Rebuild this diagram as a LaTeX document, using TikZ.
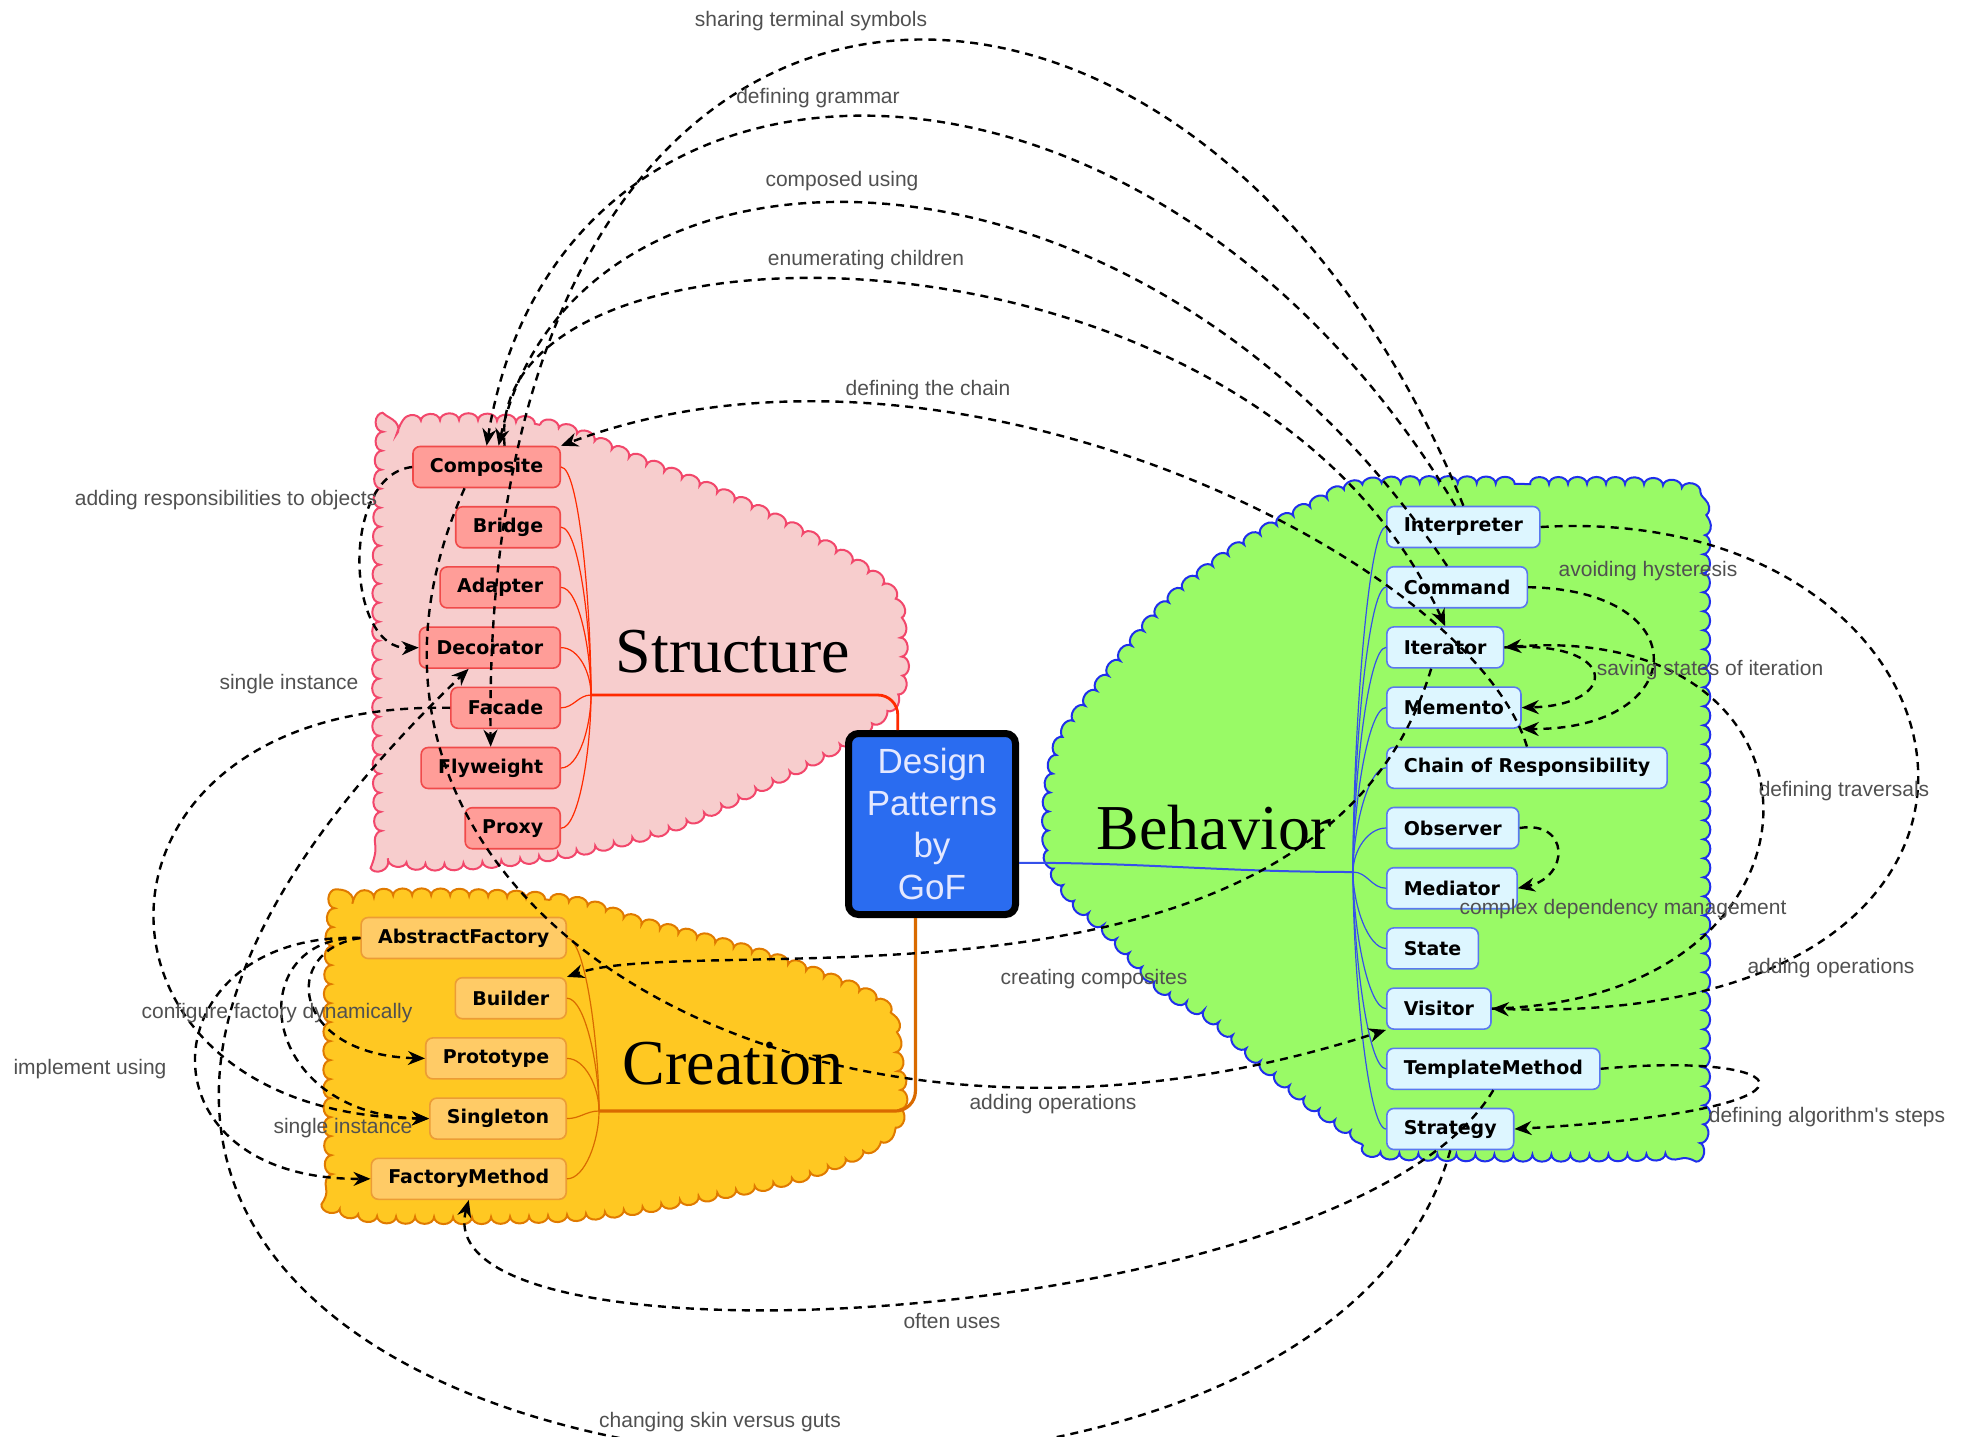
\documentclass[tikz,border=0pt]{standalone}
\usepackage{fontspec}
\setmainfont{Liberation Serif}
\newfontfamily\boxfont{DejaVu Sans}
\newfontfamily\labelfont{Liberation Sans}
\usepackage{xcolor}
\usepackage{tikz}
\usetikzlibrary{
    arrows.meta,
    positioning,
    decorations.pathmorphing
}

\definecolor{structfill}{HTML}{F7CDCD}
\definecolor{structline}{HTML}{F2476B}
\definecolor{structbox}{HTML}{FF9D98}
\definecolor{structboxline}{HTML}{F04A4A}
\definecolor{structbranch}{HTML}{FF2A00}
\definecolor{creatfill}{HTML}{FFC822}
\definecolor{creatline}{HTML}{E07A00}
\definecolor{creatbox}{HTML}{FFCB66}
\definecolor{creatboxline}{HTML}{EC9C35}
\definecolor{creatbranch}{HTML}{D96A00}
\definecolor{behavfill}{HTML}{99FA66}
\definecolor{behavline}{HTML}{1F2FEB}
\definecolor{behavbox}{HTML}{DDF6FF}
\definecolor{behavboxline}{HTML}{5A78F0}
\definecolor{behavbranch}{HTML}{3550EA}
\definecolor{gofblue}{HTML}{2A6CF0}
\definecolor{goftext}{HTML}{E4E8FF}
\definecolor{labelgray}{HTML}{505050}

\begin{document}
\begin{tikzpicture}[
        x=0.5pt, y=-0.5pt,
        node distance=8.8pt,
        patternbox/.style={
            rectangle,
            rounded corners=3.5pt,
            line width=0.8pt,
            minimum height=20.5pt,
            inner xsep=8.5pt,
            inner ysep=0pt,
            font=\boxfont\bfseries\fontsize{9.5}{11}\selectfont
        },
        sbox/.style={patternbox, draw=structboxline, fill=structbox},
        cbox/.style={patternbox, draw=creatboxline, fill=creatbox},
        behbox/.style={patternbox, draw=behavboxline, fill=behavbox},
        cloudpath/.style={
            line width=1pt,
            decorate,
            decoration={bumps, segment length=19pt, amplitude=3.5pt}
        },
        grouptitle/.style={font=\fontsize{32}{32}\selectfont},
        twig/.style={line width=0.6pt},
        link/.style={
            -{Stealth[length=8.5pt,width=7pt]},
            dash pattern=on 4pt off 3pt,
            line width=1.2pt
        },
        linklabel/.style={
            font=\labelfont\fontsize{10.5}{12}\selectfont,
            text=labelgray,
            inner sep=0pt
        }
    ]

    \useasboundingbox (0,0) rectangle (1971,1436);

    % clouds
    \path[cloudpath, draw=structline, fill=structfill]
        plot[smooth cycle, tension=0.6] coordinates {
            (400,424) (540,425) (640,462) (765,515) (880,583) (900,640)
            (895,695) (850,737) (765,783) (657,830) (520,858) (400,860)
            (381,820) (382,455)};
    \path[cloudpath, draw=creatline, fill=creatfill]
        plot[smooth cycle, tension=0.6] coordinates {
            (360,897) (550,900) (645,925) (741,950) (817,975) (880,1005)
            (895,1050) (893,1125) (815,1170) (705,1195) (590,1213)
            (440,1217) (348,1210) (332,1170) (334,918)};
    \path[cloudpath, draw=behavline, fill=behavfill]
        plot[smooth cycle, tension=0.5] coordinates {
            (1370,485) (1530,484) (1665,486) (1700,505) (1703,600)
            (1703,1040) (1700,1135) (1665,1153) (1400,1153) (1367,1140)
            (1317,1107) (1263,1063) (1213,1018) (1163,987) (1110,932)
            (1075,900) (1052,860) (1050,800) (1062,742) (1106,679)
            (1169,603) (1232,553) (1307,509)};

    \node[grouptitle] (structure) at (733,652) {Structure};
    \node[grouptitle] (creation) at (733,1064) {Creation};
    \node[grouptitle] (behavior) at (1214,828) {Behavior};

    % structure patterns
    \node[sbox, anchor=east] (composite) at (561,467) {Composite};
    \node[sbox, below=of composite.south east, anchor=north east] (bridge) {Bridge};
    \node[sbox, below=of bridge.south east, anchor=north east] (adapter) {Adapter};
    \node[sbox, below=of adapter.south east, anchor=north east] (decorator) {Decorator};
    \node[sbox, below=of decorator.south east, anchor=north east] (facade) {Facade};
    \node[sbox, below=of facade.south east, anchor=north east] (flyweight) {Flyweight};
    \node[sbox, below=of flyweight.south east, anchor=north east] (proxy) {Proxy};

    % creation patterns
    \node[cbox, anchor=east] (abstractfactory) at (567,938) {AbstractFactory};
    \node[cbox, below=of abstractfactory.south east, anchor=north east] (builder) {Builder};
    \node[cbox, below=of builder.south east, anchor=north east] (prototype) {Prototype};
    \node[cbox, below=of prototype.south east, anchor=north east] (singleton) {Singleton};
    \node[cbox, below=of singleton.south east, anchor=north east] (factorymethod) {FactoryMethod};

    % behavior patterns
    \node[behbox, anchor=west] (interp) at (1386,527) {Interpreter};
    \node[behbox, below=of interp.south west, anchor=north west] (command) {Command};
    \node[behbox, below=of command.south west, anchor=north west] (iterator) {Iterator};
    \node[behbox, below=of iterator.south west, anchor=north west] (memento) {Memento};
    \node[behbox, below=of memento.south west, anchor=north west] (chain) {Chain of Responsibility};
    \node[behbox, below=of chain.south west, anchor=north west] (observer) {Observer};
    \node[behbox, below=of observer.south west, anchor=north west] (mediator) {Mediator};
    \node[behbox, below=of mediator.south west, anchor=north west] (state) {State};
    \node[behbox, below=of state.south west, anchor=north west] (visitor) {Visitor};
    \node[behbox, below=of visitor.south west, anchor=north west] (templatemethod) {TemplateMethod};
    \node[behbox, below=of templatemethod.south west, anchor=north west] (strategy) {Strategy};

    % centre
    \node[
        draw=black, line width=3.5pt, rounded corners=5pt,
        fill=gofblue, text=goftext,
        minimum width=83.5pt, minimum height=90.5pt,
        align=center,
        font=\labelfont\fontsize{17.5}{21}\selectfont
    ] (gof) at (932,824) {Design\\Patterns\\by\\GoF};

    \coordinate (sj) at (591,695);
    \coordinate (cj) at (599,1111);
    \coordinate (bj) at (1353,872);

    % branches
    \draw[structbranch, line width=1.4pt, rounded corners=10pt] (gof.110) |- (sj);
    \draw[creatbranch, line width=1.6pt, rounded corners=10pt] (gof.-100) |- (cj);
    \draw[behavbranch, line width=1pt] (gof.-24) to[out=0, in=180] (bj);

    \foreach \n in {composite, bridge, adapter, decorator}
        \draw[twig, structbranch] (sj) to[out=90, in=0, in distance=9pt] (\n.east);
    \draw[twig, structbranch] (sj) to[out=180, in=0] (facade.east);
    \foreach \n in {flyweight, proxy}
        \draw[twig, structbranch] (sj) to[out=-90, in=0, in distance=9pt] (\n.east);

    \foreach \n in {abstractfactory, builder, prototype}
        \draw[twig, creatbranch] (cj) to[out=90, in=0, in distance=9pt] (\n.east);
    \draw[twig, creatbranch] (cj) to[out=180, in=0] (singleton.east);
    \draw[twig, creatbranch] (cj) to[out=-90, in=0, in distance=9pt] (factorymethod.east);

    \foreach \n in {interp, command, iterator, memento, chain, observer}
        \draw[twig, behavbranch] (bj) to[out=90, in=180, in distance=9pt] (\n.west);
    \draw[twig, behavbranch] (bj) to[out=0, in=180] (mediator.west);
    \foreach \n in {state, visitor, templatemethod, strategy}
        \draw[twig, behavbranch] (bj) to[out=-90, in=180, in distance=9pt] (\n.west);

    % links over the top
    \draw[link] (interp.north) .. controls (1200,-150) and (480,-150) .. (flyweight.north);
    \draw[link] ([xshift=-4pt]interp.north) .. controls (1150,-2) and (560,-2) .. (composite.north);
    \draw[link] ([xshift=-5pt]command.north) .. controls (1140,105) and (575,105) .. ([xshift=6pt]composite.north);
    \draw[link] ([xshift=9pt]composite.north) .. controls (480,199) and (1250,199) .. (iterator.north);
    \draw[link] (chain.north) .. controls (1470,560) and (950,300) .. (composite.north east);

    % links on the left
    \draw[link] (composite.west) .. controls (340,475) and (345,650) .. (decorator.west);
    \draw[link] (facade.west) .. controls (60,700) and (60,1115) .. (singleton.west);
    \draw[link] (abstractfactory.west) .. controls (240,935) and (255,1115) .. (singleton.west);
    \draw[link] (abstractfactory.west) .. controls (150,930) and (130,1180) .. (factorymethod.west);
    \draw[link] (abstractfactory.west) .. controls (280,950) and (290,1055) .. (prototype.west);

    % links across
    \draw[link] ([xshift=-7pt]iterator.south) .. controls (1320,1040) and (700,930) .. (builder.north east);
    \draw[link] ([xshift=-11pt]composite.south) .. controls (280,900) and (800,1220) .. (visitor.south west);
    \draw[link] (templatemethod.south) .. controls (1350,1330) and (420,1380) .. (factorymethod.south);
    \draw[link] (strategy.south) .. controls (1300,1700) and (-400,1500) .. (decorator.-135);

    % links on the right
    \draw[link] (interp.east) .. controls (2000,500) and (2100,1030) .. (visitor.east);
    \draw[link] (visitor.east) .. controls (1850,1000) and (1850,620) .. (iterator.east);
    \draw[link] (iterator.east) .. controls (1620,640) and (1620,705) .. (memento.east);
    \draw[link] (command.east) .. controls (1700,590) and (1690,730) .. (memento.south east);
    \draw[link] (observer.east) .. controls (1570,820) and (1570,877) .. (mediator.east);
    \draw[link] (templatemethod.east) .. controls (1800,1050) and (1850,1110) .. (strategy.east);

    % labels
    \node[linklabel] (lsharing) at (811,21) {sharing terminal symbols};
    \node[linklabel] (lgrammar) at (818,98) {defining grammar};
    \node[linklabel] (lcomposed) at (842,181) {composed using};
    \node[linklabel] (lchildren) at (866,260) {enumerating children};
    \node[linklabel] (lchain) at (928,390) {defining the chain};
    \node[linklabel] (lrespons) at (226,500) {adding responsibilities to objects};
    \node[linklabel] (lsingle) at (289,684) {single instance};
    \node[linklabel] (lconfigure) at (277,1013) {configure factory dynamically};
    \node[linklabel] (limplement) at (90,1069) {implement using};
    \node[linklabel] (lsingletwo) at (343,1128) {single instance};
    \node[linklabel] (lcreating) at (1094,979) {creating composites};
    \node[linklabel] (laddingtwo) at (1053,1104) {adding operations};
    \node[linklabel] (loften) at (952,1321) {often uses};
    \node[linklabel] (lskin) at (720,1422) {changing skin versus guts};
    \node[linklabel] (lhysteresis) at (1648,571) {avoiding hysteresis};
    \node[linklabel] (lsaving) at (1710,670) {saving states of iteration};
    \node[linklabel] (ltraversal) at (1844,791) {defining traversals};
    \node[linklabel] (ldependency) at (1623,909) {complex dependency management};
    \node[linklabel] (ladding) at (1831,968) {adding operations};
    \node[linklabel] (lsteps) at (1827,1117) {defining algorithm's steps};

\end{tikzpicture}
\end{document}
